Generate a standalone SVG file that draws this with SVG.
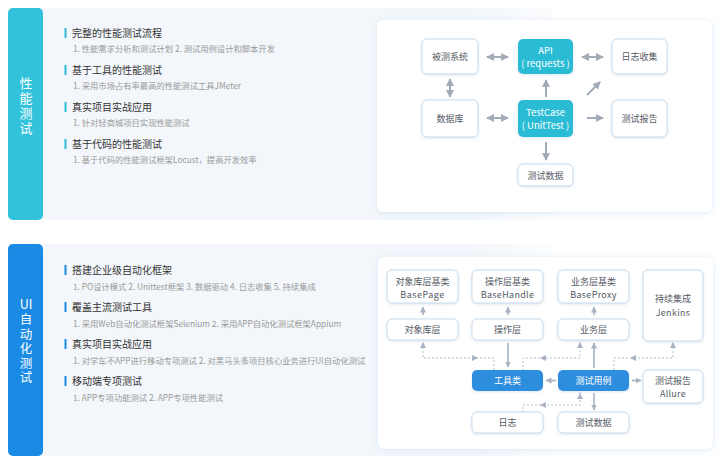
<svg xmlns="http://www.w3.org/2000/svg" xmlns:xlink="http://www.w3.org/1999/xlink" width="720" height="462" viewBox="0 0 720 462">
<style>
text{font-family:"Noto Sans CJK SC","Noto Sans",sans-serif;}
.tab{fill:#fff;font-size:13px;text-anchor:middle;}
.vt{fill:#fff;font-size:13px;writing-mode:vertical-rl;letter-spacing:2px;}
.h{fill:#333;font-size:10px;}
.s{fill:#999;font-size:8.3px;}
.n{fill:#fff;stroke:#c9dbea;stroke-width:1;}
.fc{fill:#2cbcd5;}
.fb{fill:#2e8ede;}
.t{fill:#555b66;font-size:9px;text-anchor:middle;}
.tw{fill:#fff;font-size:9.5px;text-anchor:middle;}
.a{stroke:#a2acb9;stroke-width:2;fill:none;}
.b{stroke:#a9b2c3;stroke-width:1.6;fill:none;}
.d{stroke:#b4bccb;stroke-width:1;fill:none;stroke-dasharray:2 2;}
.ah{fill:#a9b2c3;}
</style>
<defs>
<filter id="sh" x="-10%" y="-10%" width="120%" height="125%">
<feDropShadow dx="0" dy="1" stdDeviation="3" flood-color="#cfe0f2" flood-opacity="0.7"/>
</filter>
<filter id="ns" x="-20%" y="-20%" width="140%" height="150%">
<feDropShadow dx="0" dy="1" stdDeviation="1.5" flood-color="#c8d8ea" flood-opacity="0.6"/>
</filter>
<marker id="m1" viewBox="0 0 8 8" refX="7" refY="4" markerWidth="8" markerHeight="8" markerUnits="userSpaceOnUse" orient="auto-start-reverse">
<path d="M0,0 L8,4 L0,8 Z" fill="#a2acb9"/>
</marker>
<marker id="m2" viewBox="0 0 6 6" refX="5.5" refY="3" markerWidth="6" markerHeight="6" markerUnits="userSpaceOnUse" orient="auto-start-reverse">
<path d="M0,0 L6,3 L0,6 Z" fill="#a9b2c3"/>
</marker>
<path id="ah" d="M0,0 L-6,-3 L-6,3 Z"/>
<linearGradient id="pg" x1="0" y1="0" x2="1" y2="0">
<stop offset="0" stop-color="#f3f7fb"/>
<stop offset="0.85" stop-color="#f3f7fb"/>
<stop offset="1" stop-color="#f3f7fb" stop-opacity="0.3"/>
</linearGradient>
</defs>
<rect width="720" height="462" fill="#fff"/>

<!-- Section 1 -->
<g id="section-perf">
<rect x="8" y="8" width="545" height="212" rx="5" fill="url(#pg)"/>
<rect x="8" y="8" width="35" height="212" rx="5" fill="#33c2dc"/>
<text class="vt" x="26" y="77">性能测试</text>
<g fill="#2cbcd5">
<rect x="64.5" y="28" width="2" height="10"/>
<rect x="64.5" y="65" width="2" height="10"/>
<rect x="64.5" y="102" width="2" height="10"/>
<rect x="64.5" y="139" width="2" height="10"/>
</g>
<text class="h" x="72" y="37">完整的性能测试流程</text>
<text class="s" x="73" y="52">1. 性能需求分析和测试计划 2. 测试用例设计和脚本开发</text>
<text class="h" x="72" y="74">基于工具的性能测试</text>
<text class="s" x="73" y="89">1. 采用市场占有率最高的性能测试工具JMeter</text>
<text class="h" x="72" y="111">真实项目实战应用</text>
<text class="s" x="73" y="126">1. 针对轻商城项目实现性能测试</text>
<text class="h" x="72" y="148">基于代码的性能测试</text>
<text class="s" x="73" y="163">1. 基于代码的性能测试框架Locust，提高开发效率</text>
<rect x="377" y="20" width="335" height="192" rx="6" fill="#fff" filter="url(#sh)"/>
</g>

<g id="node-sut"><rect class="n" x="422" y="39" width="56" height="35" rx="5" filter="url(#ns)"/><text class="t" x="450" y="60">被测系统</text></g>
<g id="node-api"><rect class="fc" x="518" y="39" width="55" height="35" rx="5" filter="url(#ns)"/><text class="tw" x="545.5" y="53.5">API</text><text class="tw" x="545.5" y="67">( requests )</text></g>
<g id="node-log1"><rect class="n" x="612" y="39" width="55" height="35" rx="5" filter="url(#ns)"/><text class="t" x="639.5" y="60">日志收集</text></g>
<g id="node-db"><rect class="n" x="422" y="100" width="56" height="37" rx="5" filter="url(#ns)"/><text class="t" x="450" y="122">数据库</text></g>
<g id="node-testcase"><rect class="fc" x="518" y="100" width="55" height="37" rx="5" filter="url(#ns)"/><text class="tw" x="545.5" y="115.5">TestCase</text><text class="tw" x="545.5" y="129">( UnitTest )</text></g>
<g id="node-report1"><rect class="n" x="612" y="100" width="55" height="37" rx="5" filter="url(#ns)"/><text class="t" x="639.5" y="122">测试报告</text></g>
<g id="node-data1"><rect class="n" x="518" y="164" width="55" height="22" rx="5" filter="url(#ns)"/><text class="t" x="545.5" y="178.5">测试数据</text></g>

<g id="connectors-perf">
<line class="a" x1="487" y1="57" x2="508" y2="57" marker-start="url(#m1)" marker-end="url(#m1)"/>
<line class="a" x1="582" y1="57" x2="603" y2="57" marker-start="url(#m1)" marker-end="url(#m1)"/>
<line class="a" x1="450" y1="79" x2="450" y2="97" marker-start="url(#m1)" marker-end="url(#m1)"/>
<line class="a" x1="487" y1="118" x2="508" y2="118" marker-start="url(#m1)" marker-end="url(#m1)"/>
<line class="a" x1="546" y1="97" x2="546" y2="80" marker-end="url(#m1)"/>
<line class="a" x1="587" y1="95" x2="600" y2="82" marker-end="url(#m1)"/>
<line class="a" x1="587" y1="118" x2="603" y2="118" marker-end="url(#m1)"/>
<line class="a" x1="546" y1="142" x2="546" y2="160" marker-end="url(#m1)"/>
</g>

<!-- Section 2 -->
<g id="section-ui">
<rect x="8" y="244" width="545" height="212" rx="5" fill="url(#pg)"/>
<rect x="8" y="244" width="35" height="212" rx="5" fill="#1a8ae4"/>
<text class="tab" x="26" y="309" style="font-size:12.5px">UI</text>
<text class="vt" x="26" y="313" style="font-size:12.5px">自动化测试</text>
<g fill="#1a8ae4">
<rect x="64.5" y="265" width="2" height="10"/>
<rect x="64.5" y="302" width="2" height="10"/>
<rect x="64.5" y="339" width="2" height="10"/>
<rect x="64.5" y="376" width="2" height="10"/>
</g>
<text class="h" x="72" y="274">搭建企业级自动化框架</text>
<text class="s" x="73" y="290">1. PO设计模式 2. Unittest框架 3. 数据驱动 4. 日志收集 5. 持续集成</text>
<text class="h" x="72" y="311">覆盖主流测试工具</text>
<text class="s" x="73" y="327">1. 采用Web自动化测试框架Selenium 2. 采用APP自动化测试框架Appium</text>
<text class="h" x="72" y="348">真实项目实战应用</text>
<text class="s" x="73" y="364">1. 对学车不APP进行移动专项测试 2. 对黑马头条项目核心业务进行UI自动化测试</text>
<text class="h" x="72" y="385">移动端专项测试</text>
<text class="s" x="73" y="401">1. APP专项功能测试 2. APP专项性能测试</text>
<rect x="378" y="257" width="335" height="192" rx="6" fill="#fff" filter="url(#sh)"/>
</g>

<g id="node-basepage"><rect class="n" x="387" y="270" width="71" height="33" rx="5" filter="url(#ns)"/><text class="t" x="422.5" y="284.5">对象库层基类</text><text class="t" x="422.5" y="298" style="letter-spacing:0.5px">BasePage</text></g>
<g id="node-basehandle"><rect class="n" x="472" y="270" width="71" height="33" rx="5" filter="url(#ns)"/><text class="t" x="507.5" y="284.5">操作层基类</text><text class="t" x="507.5" y="298" style="letter-spacing:0.3px">BaseHandle</text></g>
<g id="node-baseproxy"><rect class="n" x="558" y="270" width="71" height="33" rx="5" filter="url(#ns)"/><text class="t" x="593.5" y="284.5">业务层基类</text><text class="t" x="593.5" y="298" style="letter-spacing:0.3px">BaseProxy</text></g>
<g id="node-jenkins"><rect class="n" x="643" y="270" width="60" height="71" rx="5" filter="url(#ns)"/><text class="t" x="673" y="302">持续集成</text><text class="t" x="673" y="315.5" style="letter-spacing:0.3px">Jenkins</text></g>
<g id="node-objlayer"><rect class="n" x="387" y="319" width="71" height="21" rx="5" filter="url(#ns)"/><text class="t" x="422.5" y="333">对象库层</text></g>
<g id="node-oplayer"><rect class="n" x="472" y="319" width="71" height="21" rx="5" filter="url(#ns)"/><text class="t" x="507.5" y="333">操作层</text></g>
<g id="node-bizlayer"><rect class="n" x="558" y="319" width="71" height="21" rx="5" filter="url(#ns)"/><text class="t" x="593.5" y="333">业务层</text></g>
<g id="node-tools"><rect class="fb" x="472" y="370" width="71" height="21" rx="5" filter="url(#ns)"/><text class="tw" x="507.5" y="384" style="font-size:9px">工具类</text></g>
<g id="node-cases"><rect class="fb" x="558" y="370" width="71" height="21" rx="5" filter="url(#ns)"/><text class="tw" x="593.5" y="384" style="font-size:9px">测试用例</text></g>
<g id="node-allure"><rect class="n" x="643" y="370" width="60" height="33" rx="5" filter="url(#ns)"/><text class="t" x="673" y="383.5">测试报告</text><text class="t" x="673" y="397" style="letter-spacing:0.3px">Allure</text></g>
<g id="node-log2"><rect class="n" x="472" y="412" width="71" height="21" rx="5" filter="url(#ns)"/><text class="t" x="507.5" y="426">日志</text></g>
<g id="node-data2"><rect class="n" x="558" y="412" width="71" height="21" rx="5" filter="url(#ns)"/><text class="t" x="593.5" y="426">测试数据</text></g>

<g id="connectors-ui">
<line class="b" x1="423" y1="315" x2="423" y2="307" marker-end="url(#m2)"/>
<line class="b" x1="508" y1="315" x2="508" y2="307" marker-end="url(#m2)"/>
<line class="b" x1="594" y1="315" x2="594" y2="307" marker-end="url(#m2)"/>
<path class="d" d="M494,370 V358 H423 V342"/>
<use href="#ah" class="ah" transform="translate(423,342) rotate(-90)"/>
<use href="#ah" class="ah" transform="translate(478,358)"/>
<line class="b" x1="508" y1="343" x2="508" y2="367" marker-end="url(#m2)"/>
<path class="d" d="M580,342 V358 H523 V370"/>
<use href="#ah" class="ah" transform="translate(580,342) rotate(-90)"/>
<use href="#ah" class="ah" transform="translate(540,358) rotate(180)"/>
<line class="b" x1="594" y1="368" x2="594" y2="343" marker-end="url(#m2)"/>
<path class="d" d="M614,370 V358 H673 V342"/>
<use href="#ah" class="ah" transform="translate(673,342) rotate(-90)"/>
<use href="#ah" class="ah" transform="translate(630,358) rotate(180)"/>
<line class="b" x1="556" y1="380.5" x2="546" y2="380.5" marker-end="url(#m2)"/>
<line class="b" x1="632" y1="380.5" x2="641" y2="380.5" marker-end="url(#m2)"/>
<path class="d" d="M580,392 V405 H523 V412"/>
<use href="#ah" class="ah" transform="translate(580,393) rotate(-90)"/>
<use href="#ah" class="ah" transform="translate(540,405) rotate(180)"/>
<line class="b" x1="594" y1="393" x2="594" y2="410" marker-end="url(#m2)"/>
</g>
</svg>
